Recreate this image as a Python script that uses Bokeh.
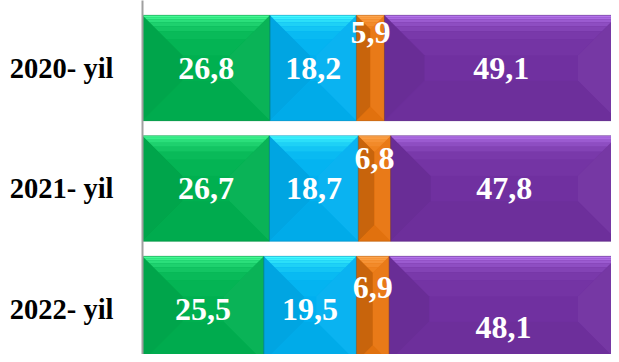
from bokeh.plotting import figure
from bokeh.models import Range1d, FixedTicker
from bokeh.core.properties import value
from bokeh.embed import file_html
from bokeh.resources import INLINE

# ---- data ----
categories = ["2020- yil", "2021- yil", "2022- yil"]
series_green = [26.8, 26.7, 25.5]
series_blue = [18.2, 18.7, 19.5]
series_orange = [5.9, 6.8, 6.9]
series_purple = [49.1, 47.8, 48.1]

# ---- style ----
series = [series_green, series_blue, series_orange, series_purple]
base_cols = ["#00B050", "#00B0F0", "#E8740E", "#7030A0"]
hi_cols = ["#48FF98", "#48FFFF", "#FFA850", "#B878F0"]
# label vertical nudges in px (negative = up), per row per series
label_nudge = [[0, 0, -36, 0], [0, 0, -30, 0], [0, 0, -22, 18]]

W, H = 611, 354
LEFT = 142
PX_PER_UNIT_X = 4.754
ROW_PITCH = 120.5
ROW0_CENTER = 67.5
X0 = 0
X1 = (W - LEFT) / PX_PER_UNIT_X
Y_TOP = -ROW0_CENTER / ROW_PITCH
Y_BOTTOM = (H - ROW0_CENTER) / ROW_PITCH
BAR_H = 0.875
sx = PX_PER_UNIT_X
sy = ROW_PITCH


def hx(c):
    c = c.lstrip("#")
    return [int(c[i:i + 2], 16) for i in (0, 2, 4)]


def mix(a, b, t):
    A, B = hx(a), hx(b)
    return "#%02x%02x%02x" % tuple(int(round(A[i] * (1 - t) + B[i] * t)) for i in range(3))


p = figure(width=W, height=H, output_backend="svg", toolbar_location=None,
           x_range=Range1d(X0, X1), y_range=Range1d(Y_BOTTOM, Y_TOP),
           x_axis_location=None, min_border_left=LEFT, min_border_right=0,
           min_border_top=0, min_border_bottom=0)
p.outline_line_color = None
p.xgrid.visible = False
p.ygrid.visible = False
p.background_fill_color = "white"

xs, ys, cols = [], [], []
qx0, qx1, qy0, qy1, qcol = [], [], [], [], []
tx, ty, tt = [], [], []

for r, cat in enumerate(categories):
    left = 0.0
    for s, vals in enumerate(series):
        v = vals[r]
        x0, x1 = left, left + v
        y0, y1 = r - BAR_H / 2, r + BAR_H / 2
        wpx, hpx = (x1 - x0) * sx, (y1 - y0) * sy
        d = min(40.0, wpx / 2, hpx / 2)
        dx, dy = d / sx, d / sy
        base = base_cols[s]
        qx0.append(x0); qx1.append(x1); qy0.append(y0); qy1.append(y1); qcol.append(base)
        # left face
        xs.append([x0, x0 + dx, x0 + dx, x0]); ys.append([y0, y0 + dy, y1 - dy, y1])
        cols.append(mix(base, "#000000", 0.06 if wpx > 60 else 0.14))
        # right face
        xs.append([x1, x1 - dx, x1 - dx, x1]); ys.append([y0, y0 + dy, y1 - dy, y1])
        cols.append(mix(base, "#ffffff", 0.04))
        # bottom face
        xs.append([x0, x0 + dx, x1 - dx, x1]); ys.append([y1, y1 - dy, y1 - dy, y1])
        cols.append(mix(base, "#000000", 0.03))
        # top face in graded strips
        steps = [(0, 2, 0.95), (2, 4, 0.8), (4, 7, 0.6), (7, 11, 0.42),
                 (11, 16, 0.26), (16, 24, 0.13), (24, 40, 0.05)]
        for a, b, t in steps:
            if a >= d:
                break
            b = min(b, d)
            ax_, ay, bx, by = a / sx, a / sy, b / sx, b / sy
            xs.append([x0 + ax_, x1 - ax_, x1 - bx, x0 + bx])
            ys.append([y0 + ay, y0 + ay, y0 + by, y0 + by])
            cols.append(mix(base, hi_cols[s], t))
        tx.append((x0 + x1) / 2)
        ty.append(r + label_nudge[r][s] / sy)
        tt.append(("%.1f" % v).replace(".", ","))
        left = x1

p.quad(left=qx0, right=qx1, top=qy0, bottom=qy1, fill_color=qcol, line_color=None)
p.patches(xs=xs, ys=ys, fill_color=cols, line_color=None)
p.quad(left=qx0, right=qx1, top=qy0, bottom=qy1, fill_color=None,
       line_color=[mix(c, "#000000", 0.3) for c in qcol], line_width=0.8, line_alpha=0.5)

p.text(x=tx, y=ty, text=tt, text_align="center", text_baseline="middle",
       text_color="white", text_font=value("Liberation Serif"),
       text_font_style="bold", text_font_size="32px")

ax = p.yaxis[0]
ax.ticker = FixedTicker(ticks=list(range(len(categories))))
ax.major_label_overrides = {i: c for i, c in enumerate(categories)}
ax.major_label_text_font = "Liberation Serif"
ax.major_label_text_font_style = "bold"
ax.major_label_text_font_size = "28.5px"
ax.major_label_text_color = "black"
ax.major_label_standoff = 29
ax.major_tick_out = 0
ax.major_tick_in = 0
ax.minor_tick_out = 0
ax.minor_tick_in = 0
ax.axis_line_color = "#A0A0A0"
ax.axis_line_width = 2

open("out.html", "w").write(file_html(p, INLINE))
